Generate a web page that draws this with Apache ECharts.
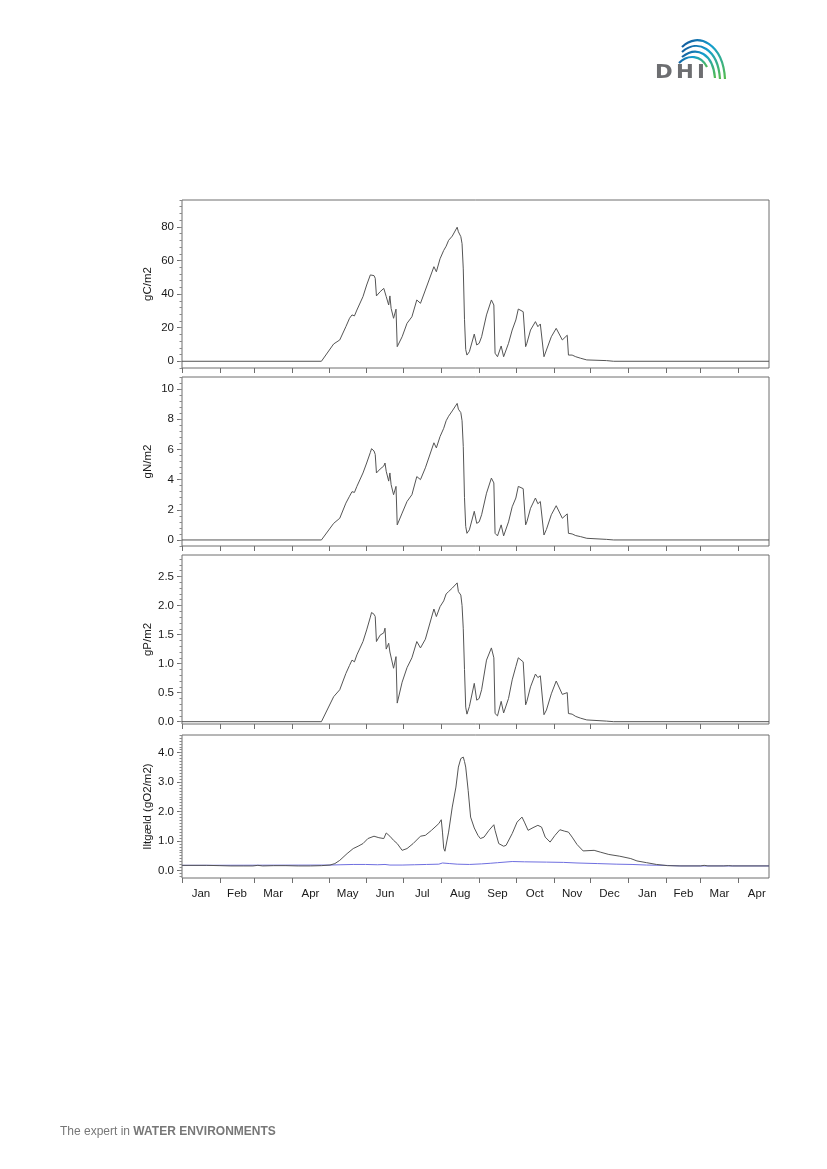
<!DOCTYPE html>
<html>
<head>
<meta charset="utf-8">
<script src="https://cdn.jsdelivr.net/npm/echarts@6/dist/echarts.min.js"></script>
<style>
html,body{margin:0;padding:0;background:#fff;}
#chart{width:827px;height:1169px;}
</style>
</head>
<body>
<div id="chart"></div>
<script>
// ---- x axis: days since 1 Jan ----
const monthStarts = [0,31,59,90,120,151,181,212,243,273,304,334,365,396,424,455];
const monthNames = ['Jan','Feb','Mar','Apr','May','Jun','Jul','Aug','Sep','Oct','Nov','Dec','Jan','Feb','Mar','Apr'];
const xMax = 480;

// ---- panels 1-3: biomass (gC, gN, gP per m2) ----
const daysCNP = [0,114,124,129,134,137,139,141,143,148,
  151,154,155,157,158,159,162,165,166,167,
  169,170,171,173,175,176,180,184,188,192,
  195,199,206,208,211,214,216,218,221,225,
  226,228,229,230,231,232,233,235,239,241,
  243,245,249,253,255,256,258,261,262,263,
  267,270,273,275,279,281,282,285,289,291,
  293,296,298,302,306,311,315,316,319,322,
  326,331,347,353,480];
const valuesC = [0,0,10.3,12.7,20.6,25.6,27.6,27,30.5,38.5,
  45.4,51.4,52.4,51,49.4,38.9,41.4,43.4,44.4,38.5,
  33.5,38.9,31.5,25.6,31,8.7,14.6,22.6,26.5,36.5,
  34.5,42.4,56.3,53.3,61,66,68.5,72,74.5,79.8,
  77.1,74.2,70,55,25,7,3.7,5.7,16.2,9.7,
  10.7,14.6,27.6,36.5,33.5,4.8,2.7,9.1,9.3,2.7,
  10.7,18.6,24.6,31.1,29.5,8.7,10.7,18.6,23.6,20.6,
  22.2,2.7,6.7,14.6,19.6,12.7,15.5,3.7,3.7,2.7,
  1.8,0.8,0.4,0,0];
const valuesN = [0,0,1.1,1.44,2.44,2.9,3.2,3.15,3.55,4.44,
  5.1,5.8,6.05,5.9,5.67,4.44,4.7,4.9,5.1,4.55,
  3.9,4.44,3.67,3.0,3.55,1.0,1.78,2.55,3.0,4.2,
  4.0,4.78,6.44,6.1,6.85,7.4,7.9,8.2,8.55,9.05,
  8.67,8.44,7.9,6.2,2.8,0.9,0.44,0.67,1.9,1.1,
  1.2,1.67,3.1,4.1,3.78,0.44,0.27,1.0,1.07,0.27,
  1.2,2.2,2.78,3.55,3.4,1.0,1.2,2.1,2.78,2.4,
  2.55,0.33,0.7,1.67,2.27,1.44,1.73,0.44,0.4,0.29,
  0.22,0.11,0.04,0,0];
const valuesP = [0,0,0.43,0.55,0.83,0.97,1.06,1.03,1.15,1.38,
  1.58,1.8,1.88,1.85,1.81,1.38,1.49,1.53,1.61,1.25,
  1.35,1.2,1.18,0.92,1.12,0.32,0.68,0.93,1.1,1.38,
  1.27,1.42,1.94,1.81,1.98,2.08,2.2,2.24,2.3,2.39,
  2.24,2.18,2.0,1.6,0.9,0.25,0.13,0.26,0.66,0.37,
  0.4,0.55,1.06,1.27,1.1,0.14,0.1,0.35,0.38,0.15,
  0.4,0.72,0.95,1.1,1.03,0.29,0.35,0.6,0.82,0.76,
  0.79,0.12,0.2,0.48,0.7,0.47,0.5,0.14,0.13,0.09,
  0.06,0.03,0.01,0,0];

// ---- panel 4: oxygen consumption (gO2/m2) ----
const daysO2black = [0,20,31,40,50,58,62,66,75,85,95,105,114,121,125,129,135,140,144,148,
  152,157,161,165,167,170,173,176,180,184,189,195,199,204,210,212,213,214,215,216,
  218,221,224,226,228,230,231,232,234,236,239,242,244,247,251,255,256,259,263,265,
  270,274,278,280,283,287,291,294,297,301,305,309,313,316,319,323,328,337,342,349,
  358,367,372,380,388,397,408,424,427,430,443,447,450,480];
const valuesO2black = [0.17,0.17,0.16,0.15,0.15,0.15,0.17,0.15,0.16,0.16,0.15,0.15,0.16,0.18,0.23,0.34,0.57,0.74,0.82,0.91,
  1.08,1.16,1.11,1.08,1.27,1.16,1.02,0.91,0.68,0.74,0.91,1.16,1.19,1.36,1.59,1.72,1.3,0.75,0.65,0.7,
  1.3,2.15,2.83,3.51,3.8,3.85,3.7,3.51,2.72,1.81,1.44,1.19,1.08,1.13,1.36,1.55,1.36,0.91,0.82,0.85,
  1.25,1.64,1.81,1.64,1.36,1.45,1.53,1.47,1.13,0.96,1.19,1.38,1.33,1.3,1.13,0.88,0.66,0.68,0.62,0.54,
  0.48,0.4,0.32,0.26,0.2,0.16,0.15,0.15,0.17,0.15,0.15,0.16,0.15,0.15];
const daysO2blue = [0,121,130,140,150,160,166,167,170,180,190,200,210,213,219,225,235,245,252,258,
  270,280,298,312,323,340,355,368,380,395,407,480];
const valuesO2blue = [0.17,0.18,0.19,0.2,0.2,0.19,0.2,0.25,0.18,0.18,0.19,0.2,0.21,0.25,0.23,0.21,0.2,0.22,0.24,0.26,
  0.3,0.29,0.28,0.27,0.25,0.23,0.21,0.2,0.18,0.17,0.15,0.15];

// ---- y-axis tick labels ----
const yTicksC = [0,20,40,60,80];
const yTicksN = [0,2,4,6,8,10];
const yTicksP = [0,0.5,1.0,1.5,2.0,2.5];
const yTicksO2 = [0,1,2,3,4];

const FONT = 'Liberation Sans';
const TXT = '#1a1a1a';
const AX = '#6e6e6e';
const LINE = '#555555';

const monthMids = monthStarts.map((s,i)=> s + ((i < monthStarts.length-1 ? monthStarts[i+1] : s+30) - s)/2);

function pairs(xs, ys){ return xs.map((x,i)=>[x, ys[i]]); }
function minorValues(min, max, step){
  const out=[];
  const start=Math.ceil(min/step - 1e-9);
  for(let k=start; k*step<=max+1e-9; k++){ out.push(+(k*step).toFixed(4)); }
  return out;
}

const grids = [
  {left:182, top:200, width:587, height:168},
  {left:182, top:377, width:587, height:169},
  {left:182, top:555, width:587, height:169},
  {left:182, top:735, width:587, height:143}
].map(g=>Object.assign(g,{show:true, borderColor:AX, borderWidth:1, backgroundColor:'#fff'}));

const xAxes = grids.map((g,i)=>({
  type:'value', gridIndex:i, min:0, max:xMax, position:'bottom',
  axisLine:{show:false, onZero:false}, splitLine:{show:false},
  axisTick:{show:true, customValues:monthStarts, length:5, lineStyle:{color:AX}},
  axisLabel:{show:i===3, customValues:monthMids, margin:10, fontFamily:FONT, fontSize:11.5, color:TXT,
    formatter:(v)=>{ let best=0; monthMids.forEach((m,k)=>{ if(Math.abs(m-v)<Math.abs(monthMids[best]-v)) best=k; }); return monthNames[best]; }}
}));

const yCfg = [
  {name:'gC/m2', min:-4, max:96, ticks:yTicksC, minor:4, fmt:(v)=>String(v)},
  {name:'gN/m2', min:-0.4, max:10.8, ticks:yTicksN, minor:0.4, fmt:(v)=>String(v)},
  {name:'gP/m2', min:-0.04, max:2.87, ticks:yTicksP, minor:0.1, fmt:(v)=>v.toFixed(1)},
  {name:'Iltgæld (gO2/m2)', min:-0.26, max:4.6, ticks:yTicksO2, minor:0.1, fmt:(v)=>v.toFixed(1)}
];
const yAxes = [];
yCfg.forEach((c,i)=>{
  yAxes.push({
    type:'value', gridIndex:i, min:c.min, max:c.max, position:'left',
    name:c.name, nameLocation:'middle', nameGap:28, nameRotate:90, nameMoveOverlap:false,
    nameTextStyle:{fontFamily:FONT, fontSize:11.5, color:TXT},
    axisLine:{show:false, onZero:false}, splitLine:{show:false},
    axisTick:{show:true, customValues:c.ticks, length:5, lineStyle:{color:AX}},
    axisLabel:{customValues:c.ticks, margin:8, fontFamily:FONT, fontSize:11.5, color:TXT, formatter:c.fmt}
  });
  yAxes.push({
    type:'value', gridIndex:i, min:c.min, max:c.max, position:'left',
    axisLine:{show:false, onZero:false}, splitLine:{show:false}, axisLabel:{show:false},
    axisTick:{show:true, customValues:minorValues(c.min, c.max, c.minor), length:2.5, lineStyle:{color:'#8a8a8a'}}
  });
});

function lineSeries(xi, yi, data, color){
  return {type:'line', xAxisIndex:xi, yAxisIndex:yi, data:data, showSymbol:false, symbol:'none',
    lineStyle:{width:1, color:color}, silent:true, animation:false};
}

const series = [
  lineSeries(0,0,pairs(daysCNP,valuesC),LINE),
  lineSeries(1,2,pairs(daysCNP,valuesN),LINE),
  lineSeries(2,4,pairs(daysCNP,valuesP),LINE),
  lineSeries(3,6,pairs(daysO2blue,valuesO2blue),'#6f6fe0'),
  lineSeries(3,6,pairs(daysO2black,valuesO2black),LINE)
];

const grad = {type:'linear', x:0, y:0, x2:1, y2:1, global:false,
  colorStops:[{offset:0,color:'#14498f'},{offset:0.45,color:'#139fd0'},{offset:1,color:'#5cbf3f'}]};

const LOGO = 'bold 19px "DejaVu Sans"';
const graphic = [
  {type:'text', x:655, y:64, scaleX:1.12, style:{text:'D', font:LOGO, fill:'#6d6e71'}},
  {type:'text', x:676, y:64, scaleX:1.12, style:{text:'H', font:LOGO, fill:'#6d6e71'}},
  {type:'text', x:697, y:64, scaleX:1.12, style:{text:'I', font:LOGO, fill:'#6d6e71'}},
  {type:'bezierCurve', shape:{x1:682,y1:47,cpx1:698,cpy1:31,cpx2:723,cpy2:44,x2:725,y2:79}, style:{stroke:grad, lineWidth:2.2, fill:null}},
  {type:'bezierCurve', shape:{x1:682,y1:52,cpx1:698,cpy1:38,cpx2:718,cpy2:49,x2:720,y2:79}, style:{stroke:grad, lineWidth:2.2, fill:null}},
  {type:'bezierCurve', shape:{x1:682,y1:57,cpx1:697,cpy1:45,cpx2:713,cpy2:54,x2:715,y2:78}, style:{stroke:grad, lineWidth:2.2, fill:null}},
  {type:'bezierCurve', shape:{x1:679,y1:63,cpx1:688,cpy1:54,cpx2:701,cpy2:55,x2:707,y2:67}, style:{stroke:grad, lineWidth:2.2, fill:null}},
  {type:'text', left:60, top:1126, style:{
    text:'{a|The expert in }{b|WATER ENVIRONMENTS}',
    rich:{a:{fontFamily:FONT, fontSize:12, fill:'#777777', color:'#777777'},
          b:{fontFamily:FONT, fontSize:12, fontWeight:'bold', fill:'#777777', color:'#777777'}}}}
];

const chart = echarts.init(document.getElementById('chart'), null, {renderer:'canvas'});
chart.setOption({
  animation:false,
  backgroundColor:'#ffffff',
  grid:grids, xAxis:xAxes, yAxis:yAxes, series:series, graphic:graphic
});
</script>
</body>
</html>
